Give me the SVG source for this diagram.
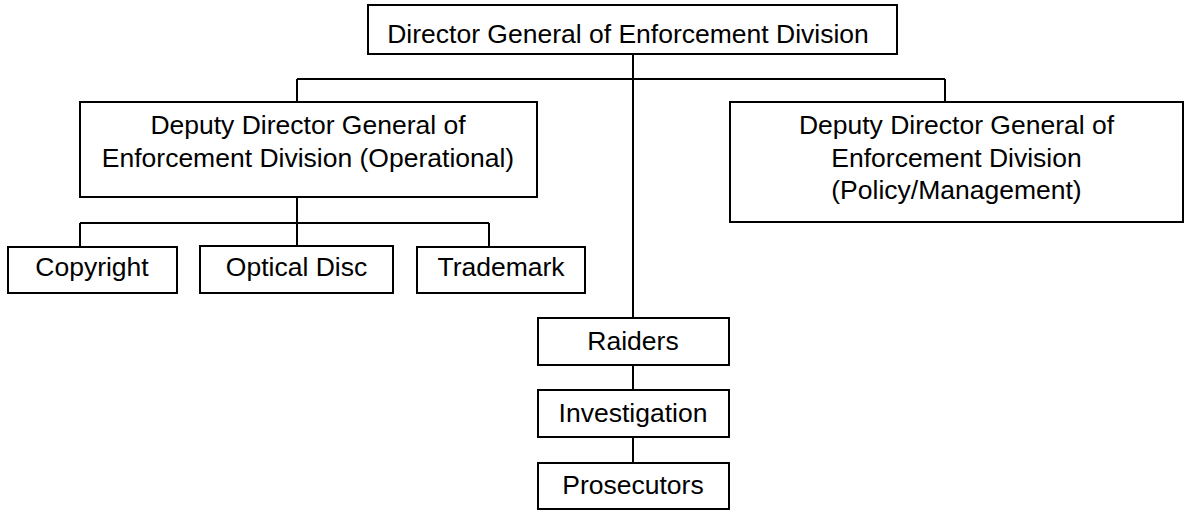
<svg xmlns="http://www.w3.org/2000/svg" width="1185" height="511" viewBox="0 0 1185 511">
<style>
.box{fill:#fff;stroke:#000;stroke-width:2}
.t{font-family:"Liberation Sans",Arial,sans-serif;font-size:26.5px;fill:#000;text-anchor:middle}
.c{stroke:#000;stroke-width:2;fill:none}
</style>
<rect width="1185" height="511" fill="#fff"/>
<g id="connectors">
<path class="c" d="M297,79H945M633,54V318M297,79V102M945,79V102M297,197V223M80,223H489M80,223V247M297,223V246M489,223V247M633,365V390M633,437V463"/>
</g>
<g id="director">
<rect class="box" x="368" y="5" width="529" height="49"/>
<text class="t" x="628" y="43">Director General of Enforcement Division</text>
</g>
<g id="deputy-operational">
<rect class="box" x="80" y="102" width="457" height="95"/>
<text class="t" x="308" y="134">Deputy Director General of</text>
<text class="t" x="308" y="166.5">Enforcement Division (Operational)</text>
</g>
<g id="deputy-policy">
<rect class="box" x="730" y="102" width="453" height="120"/>
<text class="t" x="956.5" y="134">Deputy Director General of</text>
<text class="t" x="956.5" y="166.5">Enforcement Division</text>
<text class="t" x="956.5" y="199">(Policy/Management)</text>
</g>
<g id="copyright">
<rect class="box" x="8" y="247" width="169" height="46"/>
<text class="t" x="92" y="276">Copyright</text>
</g>
<g id="optical-disc">
<rect class="box" x="200" y="246" width="193" height="47"/>
<text class="t" x="296.5" y="276">Optical Disc</text>
</g>
<g id="trademark">
<rect class="box" x="417" y="247" width="168" height="46"/>
<text class="t" x="501" y="276">Trademark</text>
</g>
<g id="raiders">
<rect class="box" x="538" y="318" width="191" height="47"/>
<text class="t" x="633" y="350">Raiders</text>
</g>
<g id="investigation">
<rect class="box" x="538" y="390" width="191" height="47"/>
<text class="t" x="633" y="422">Investigation</text>
</g>
<g id="prosecutors">
<rect class="box" x="538" y="463" width="191" height="46"/>
<text class="t" x="633" y="494">Prosecutors</text>
</g>
</svg>
